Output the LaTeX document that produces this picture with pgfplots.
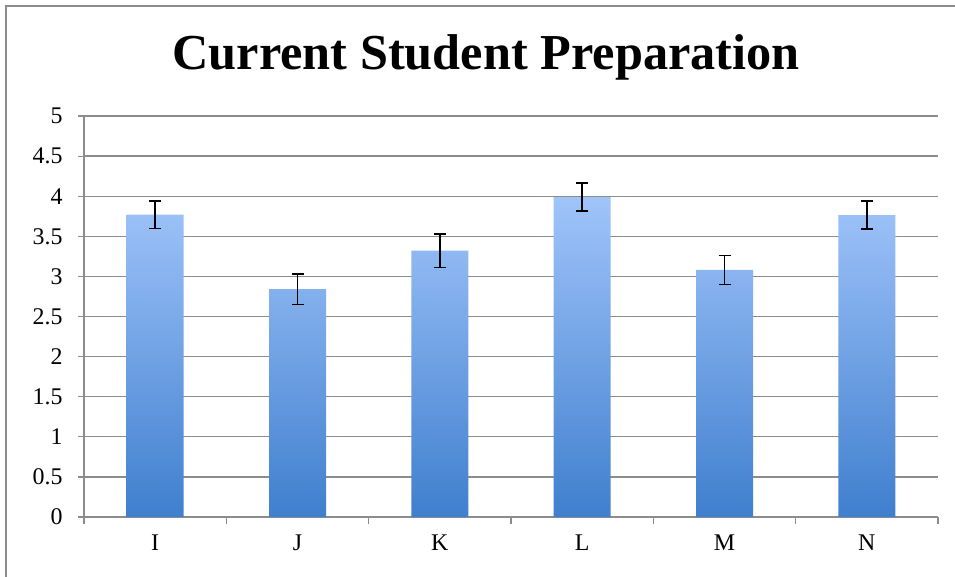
\documentclass[border=0pt]{standalone}
\usepackage{pgfplots}
\pgfplotsset{compat=1.18}
\usepackage{fontspec}
\setmainfont{Liberation Serif}
\definecolor{bartop}{HTML}{A0C4FA}
\definecolor{barbot}{HTML}{3F7FCE}
\definecolor{gridc}{HTML}{8C8C8C}
\begin{document}
\begin{tikzpicture}
\path[use as bounding box] (0,0) rectangle (955bp,577bp);
\draw[gridc, line width=1.5bp] (6bp,0) -- (6bp,571bp) -- (955bp,571bp);
\node[font=\fontsize{50.5}{58}\selectfont\bfseries] at (486bp,520bp) {Current Student Preparation};
\begin{axis}[
  at={(84bp,60bp)}, anchor=south west,
  scale only axis, width=854bp, height=401bp,
  xmin=-0.5, xmax=5.5, ymin=0, ymax=5,
  axis lines*=left,
  axis line style={gridc, line width=1.2bp},
  xtick={0,1,2,3,4,5},
  xticklabels={I,J,K,L,M,N},
  major x tick style={draw=none},
  minor xtick={-0.5,0.5,1.5,2.5,3.5,4.5,5.5},
  minor x tick style={gridc, line width=1.2bp},
  ytick={0,0.5,...,5},
  yticklabels={0,0.5,1,1.5,2,2.5,3,3.5,4,4.5,5},
  ymajorgrids,
  major grid style={gridc, line width=1.3bp},
  y tick style={gridc, line width=1.2bp},
  tick align=outside,
  major tick length=6bp, minor tick length=7bp,
  tick label style={font=\fontsize{24}{28}\selectfont},
  /pgf/number format/assume math mode=true,
  xticklabel style={yshift=-8bp},
  yticklabel style={xshift=-12bp},
  clip=false,
]
\addplot[ybar, bar width=57bp, draw=none, top color=bartop, bottom color=barbot,
  error bars/.cd, y dir=both, y explicit,
  error bar style={black, line width=1.5bp},
  error mark options={black, rotate=90, mark size=6bp, line width=1.5bp}]
  coordinates {
  (0,3.77) +- (0,0.17)
  (1,2.84) +- (0,0.19)
  (2,3.32) +- (0,0.21)
  (3,3.99) +- (0,0.175)
  (4,3.08) +- (0,0.18)
  (5,3.765) +- (0,0.175)
  };
\end{axis}
\end{tikzpicture}
\end{document}
